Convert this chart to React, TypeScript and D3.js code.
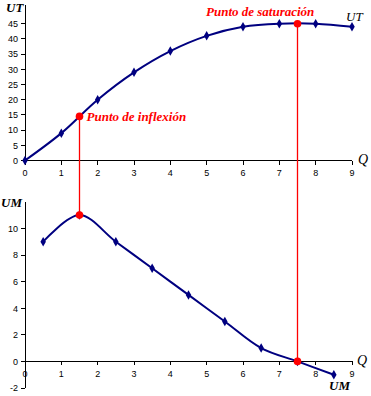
import React from "react";
import * as d3 from "d3";

const qInt = [0, 1, 2, 3, 4, 5, 6, 7, 8, 9];
const utValues = [0, 9, 20, 29, 36, 41, 44, 45, 45, 44];
const qMid = [0.5, 1.5, 2.5, 3.5, 4.5, 5.5, 6.5, 7.5, 8.5];
const umValues = [9, 11, 9, 7, 5, 3, 1, 0, -1];
const xTicks = [0, 1, 2, 3, 4, 5, 6, 7, 8, 9];
const utTicks = [0, 5, 10, 15, 20, 25, 30, 35, 40, 45];
const umTicks = [-2, 0, 2, 4, 6, 8, 10];
const inflexion = { q: 1.5, ut: 14.5, um: 11 };
const saturacion = { q: 7.5, ut: 45, um: 0 };

const NAVY = "#000080";
const RED = "#ff0000";
const SANS = "Liberation Sans, Arial, sans-serif";
const SERIF = "Liberation Serif, Times New Roman, serif";

export default function App() {
  const x = d3.scaleLinear().domain([0, 9]).range([25, 352]);
  const yTop = d3.scaleLinear().domain([0, 50]).range([160.5, 8.5]);
  const yBot = d3.scaleLinear().domain([-2, 12]).range([388, 201.8]);

  const utLine = d3
    .line<number>()
    .x((_, i) => x(qInt[i]))
    .y((d) => yTop(d))
    .curve(d3.curveCatmullRom.alpha(0.5));
  const umLine = d3
    .line<number>()
    .x((_, i) => x(qMid[i]))
    .y((d) => yBot(d))
    .curve(d3.curveCatmullRom.alpha(0.5));

  const diamond = d3.symbol().type(d3.symbolDiamond).size(26)() as string;

  const tickLabel = { fontFamily: SANS, fontSize: 9, fill: "#000" } as const;

  return (
    <svg
      width={371}
      height={396}
      style={{ position: "absolute", left: 0, top: 0, background: "#fff" }}
    >
      <rect width={371} height={396} fill="#fff" />
      {/* ---------- Top chart ---------- */}
      <g shapeRendering="crispEdges">
        <line x1={x(0)} x2={x(9)} y1={yTop(0)} y2={yTop(0)} stroke="#000" />
        <line x1={x(0)} x2={x(0)} y1={yTop(0)} y2={5} stroke="#000" />
        {xTicks.map((t) => (
          <line key={"tx" + t} x1={x(t)} x2={x(t)} y1={yTop(0)} y2={yTop(0) + 4} stroke="#000" />
        ))}
        {utTicks.map((t) => (
          <line key={"ty" + t} x1={x(0) - 4} x2={x(0)} y1={yTop(t)} y2={yTop(t)} stroke="#000" />
        ))}
      </g>
      <g>
        {xTicks.map((t) => (
          <text key={"txl" + t} x={x(t)} y={yTop(0) + 15.5} textAnchor="middle" {...tickLabel}>
            {t}
          </text>
        ))}
        {utTicks.map((t) => (
          <text key={"tyl" + t} x={x(0) - 7} y={yTop(t) + 3.3} textAnchor="end" {...tickLabel}>
            {t}
          </text>
        ))}
        <path d={utLine(utValues) || ""} fill="none" stroke={NAVY} strokeWidth={2} />
        {utValues.map((v, i) => (
          <path key={"um" + i} d={diamond} transform={`translate(${x(qInt[i])},${yTop(v)})`} fill={NAVY} />
        ))}
        <text x={6} y={12} fontFamily={SERIF} fontSize={13} fontWeight="bold" fontStyle="italic">
          UT
        </text>
        <text x={346} y={21} fontFamily={SERIF} fontSize={13} fontStyle="italic">
          UT
        </text>
        <text x={358} y={164} fontFamily={SERIF} fontSize={14} fontStyle="italic">
          Q
        </text>
      </g>

      {/* ---------- Bottom chart ---------- */}
      <g shapeRendering="crispEdges">
        <line x1={x(0) - 4} x2={x(9)} y1={yBot(0)} y2={yBot(0)} stroke="#000" />
        <line x1={x(0)} x2={x(0)} y1={yBot(-2)} y2={yBot(12)} stroke="#000" />
        {xTicks.map((t) => (
          <line key={"bx" + t} x1={x(t)} x2={x(t)} y1={yBot(0)} y2={yBot(0) + 4} stroke="#000" />
        ))}
        {umTicks.map((t) => (
          <line key={"by" + t} x1={x(0) - 4} x2={x(0)} y1={yBot(t)} y2={yBot(t)} stroke="#000" />
        ))}
      </g>
      <g>
        {xTicks.map((t) => (
          <text key={"bxl" + t} x={x(t)} y={yBot(0) + 15.5} textAnchor="middle" {...tickLabel}>
            {t}
          </text>
        ))}
        {umTicks.map((t) => (
          <text key={"byl" + t} x={x(0) - 7} y={yBot(t) + 3.3} textAnchor="end" {...tickLabel}>
            {t}
          </text>
        ))}
        <path d={umLine(umValues) || ""} fill="none" stroke={NAVY} strokeWidth={2} />
        {umValues.map((v, i) => (
          <path key={"bm" + i} d={diamond} transform={`translate(${x(qMid[i])},${yBot(v)})`} fill={NAVY} />
        ))}
        <text x={1} y={207} fontFamily={SERIF} fontSize={13} fontWeight="bold" fontStyle="italic">
          UM
        </text>
        <text x={329} y={390} fontFamily={SERIF} fontSize={13} fontWeight="bold" fontStyle="italic">
          UM
        </text>
        <text x={357} y={365} fontFamily={SERIF} fontSize={14} fontStyle="italic">
          Q
        </text>
      </g>

      {/* ---------- Red connectors ---------- */}
      {[inflexion, saturacion].map((p, i) => (
        <g key={"r" + i}>
          <line
            x1={x(p.q)}
            x2={x(p.q)}
            y1={yTop(p.ut)}
            y2={yBot(p.um)}
            stroke={RED}
            strokeWidth={1.3}
          />
          <circle cx={x(p.q)} cy={yTop(p.ut)} r={3.8} fill={RED} />
          <circle cx={x(p.q)} cy={yBot(p.um)} r={3.8} fill={RED} />
        </g>
      ))}
      <text
        x={x(inflexion.q) + 7}
        y={yTop(inflexion.ut) + 4.5}
        fontFamily={SERIF}
        fontSize={13}
        fontWeight="bold"
        fontStyle="italic"
        fill={RED}
      >
        Punto de inflexión
      </text>
      <text x={206} y={15.5} fontFamily={SERIF} fontSize={13} fontWeight="bold" fontStyle="italic" fill={RED}>
        Punto de saturación
      </text>
    </svg>
  );
}
